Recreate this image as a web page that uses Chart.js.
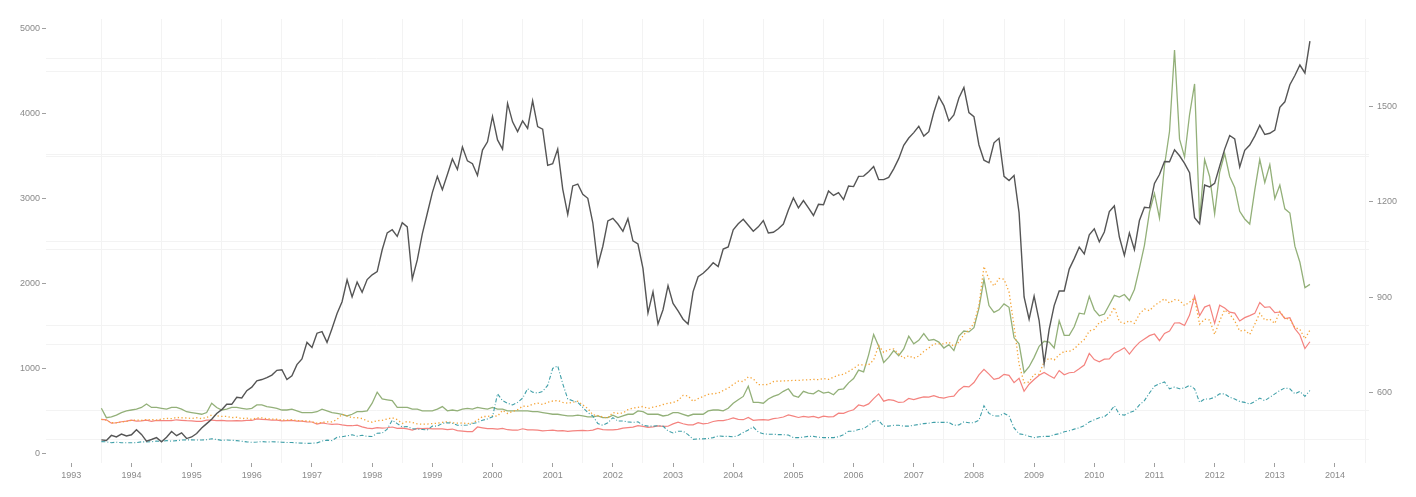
<!DOCTYPE html>
<html>
<head>
<meta charset="utf-8">
<script src="https://cdn.jsdelivr.net/npm/chart.js@4.4.0/dist/chart.umd.min.js"></script>
<style>
  html, body { margin: 0; padding: 0; background: #fff; }
  canvas { display: block; }
</style>
</head>
<body>
<canvas id="chart" width="1416" height="497"></canvas>
<script>
// monthly samples, first point = July 1993, last = August 2013
const firstYear = 1993;
const firstMonth = 7;

// S&P 500 (right axis)
const sp500 = [
  450, 448, 464, 459, 468, 462,
  466, 482, 467, 446, 451, 457, 444, 458, 476, 463, 472, 454,
  459, 470, 487, 501, 515, 533, 545, 562, 562, 584, 582, 605,
  616, 636, 640, 646, 654, 669, 671, 640, 652, 687, 705, 757,
  741, 786, 791, 757, 801, 848, 885, 954, 900, 947, 915, 955,
  970, 980, 1049, 1102, 1112, 1091, 1134, 1121, 957, 1017, 1099, 1164,
  1229, 1280, 1238, 1286, 1335, 1302, 1373, 1329, 1320, 1283, 1363, 1389,
  1469, 1395, 1366, 1510, 1452, 1421, 1455, 1431, 1518, 1437, 1429, 1315,
  1320, 1366, 1240, 1160, 1250, 1256, 1224, 1211, 1134, 1000, 1060, 1140,
  1148, 1130, 1107, 1147, 1077, 1067, 990, 850, 916, 815, 860, 936,
  880, 856, 830, 815, 917, 964, 975, 990, 1008, 996, 1051, 1058,
  1112, 1131, 1145, 1126, 1107, 1121, 1141, 1102, 1104, 1115, 1130, 1174,
  1212, 1181, 1204, 1181, 1157, 1192, 1191, 1234, 1220, 1229, 1207, 1250,
  1248, 1280, 1281, 1295, 1311, 1270, 1270, 1277, 1304, 1336, 1378, 1401,
  1418, 1438, 1407, 1421, 1482, 1531, 1503, 1455, 1474, 1527, 1560, 1481,
  1468, 1379, 1331, 1323, 1386, 1400, 1280, 1267, 1283, 1166, 900, 830,
  903, 826, 690, 798, 873, 919, 919, 988, 1021, 1057, 1036, 1096,
  1115, 1074, 1105, 1169, 1187, 1089, 1031, 1102, 1049, 1141, 1183, 1181,
  1258, 1286, 1327, 1326, 1364, 1345, 1321, 1292, 1150, 1131, 1253, 1247,
  1258, 1312, 1366, 1409, 1398, 1310, 1362, 1379, 1407, 1441, 1412, 1416,
  1426, 1498, 1515, 1569, 1598, 1631, 1606, 1706
];

// silver x 100 (left axis)
const silver = [
  530, 420, 430, 450, 480, 500,
  510, 520, 540, 580, 540, 540, 530, 520, 540, 540, 520, 490,
  480, 470, 460, 480, 590, 540, 510, 520, 540, 540, 530, 520,
  530, 570, 570, 550, 540, 530, 510, 510, 520, 500, 480, 480,
  480, 490, 520, 500, 480, 470, 460, 440, 460, 490, 490, 500,
  590, 720, 640, 630, 620, 540, 540, 540, 520, 520, 500, 500,
  500, 520, 550, 500, 510, 500, 520, 530, 520, 540, 530, 520,
  540, 520, 520, 500, 500, 500, 500, 500, 490, 490, 480, 470,
  460, 460, 450, 440, 440, 450, 440, 430, 430, 440, 420, 420,
  450, 420, 440, 460, 460, 500, 490, 460, 460, 460, 440, 450,
  480, 480, 460, 440, 460, 460, 460, 500, 510, 510, 500, 530,
  590, 630, 670, 790, 600, 600, 590, 640, 670, 690, 730, 760,
  680, 660, 730, 710, 700, 740, 710, 720, 690, 750, 760, 830,
  880, 980, 960, 1160, 1400, 1260, 1070, 1130, 1210, 1150, 1230, 1380,
  1290, 1330, 1410, 1330, 1340, 1310, 1240, 1280, 1210, 1380, 1440, 1430,
  1480, 1710, 2050, 1740, 1660, 1690, 1760, 1720, 1360, 1290, 950, 1020,
  1130, 1260, 1320, 1310, 1240, 1560, 1390, 1390, 1490, 1650, 1640, 1850,
  1690, 1620, 1640, 1750, 1860, 1840, 1870, 1800, 1930, 2180, 2450, 2840,
  3060, 2770, 3390, 3790, 4750, 3700, 3490, 3990, 4350, 2750, 3460, 3260,
  2820, 3310, 3530, 3260, 3130, 2850, 2760, 2700, 3100, 3460, 3190, 3400,
  3000, 3160, 2880, 2830, 2440, 2250, 1950, 1990
];

// gold (left axis)
const gold = [
  400, 395, 355, 360, 372, 380,
  390, 380, 382, 390, 376, 387, 386, 385, 386, 395, 389, 384,
  383, 377, 376, 390, 390, 385, 387, 383, 383, 384, 383, 387,
  387, 405, 400, 396, 392, 390, 382, 385, 387, 379, 379, 371,
  369, 345, 358, 348, 340, 345, 334, 326, 325, 332, 311, 296,
  290, 303, 297, 301, 310, 293, 296, 288, 273, 293, 292, 294,
  288, 287, 287, 280, 286, 268, 262, 255, 255, 310, 300, 291,
  290, 284, 293, 278, 274, 272, 289, 276, 277, 273, 264, 269,
  272, 265, 267, 258, 264, 267, 270, 266, 273, 293, 279, 275,
  277, 282, 297, 302, 308, 326, 318, 305, 312, 323, 317, 319,
  347, 368, 348, 335, 336, 362, 346, 354, 375, 385, 386, 398,
  416, 400, 396, 423, 388, 394, 396, 391, 408, 416, 428, 453,
  438, 422, 435, 427, 435, 417, 437, 429, 433, 473, 470, 495,
  513, 569, 557, 582, 644, 700, 614, 632, 623, 599, 604, 646,
  632, 650, 665, 662, 680, 659, 650, 666, 673, 743, 789, 783,
  834, 923, 990, 933, 871, 886, 930, 918, 833, 884, 730, 814,
  869, 919, 952, 916, 884, 975, 926, 949, 955, 996, 1040, 1176,
  1104, 1078, 1109, 1113, 1180, 1208, 1244, 1169, 1246, 1307, 1346, 1386,
  1405, 1327, 1411, 1439, 1535, 1536, 1505, 1628, 1850, 1620, 1722, 1746,
  1531, 1744, 1711, 1662, 1651, 1558, 1598, 1622, 1648, 1776, 1719, 1726,
  1657, 1664, 1588, 1598, 1469, 1394, 1234, 1314
];

// platinum (left axis)
const platinum = [
  400, 390, 360, 360, 370, 375,
  387, 392, 389, 398, 398, 391, 403, 411, 408, 423, 419, 416,
  411, 419, 409, 421, 451, 442, 434, 436, 420, 425, 409, 414,
  400, 417, 418, 408, 404, 401, 393, 391, 397, 385, 383, 383,
  372, 354, 364, 371, 370, 400, 460, 440, 420, 419, 410, 380,
  366, 385, 388, 404, 420, 396, 352, 375, 364, 347, 343, 345,
  350, 355, 365, 371, 360, 356, 357, 349, 359, 389, 433, 434,
  442, 438, 506, 470, 492, 514, 555, 553, 577, 592, 575, 601,
  616, 622, 600, 590, 603, 613, 570, 527, 454, 445, 427, 418,
  480, 471, 474, 514, 533, 540, 552, 528, 543, 555, 575, 589,
  598, 623, 682, 676, 612, 645, 670, 694, 702, 708, 740, 768,
  811, 850, 845, 900, 878, 809, 809, 811, 845, 851, 852, 855,
  859, 858, 864, 866, 870, 867, 881, 870, 896, 921, 930, 964,
  1000, 1040, 1041, 1043, 1099, 1270, 1188, 1220, 1230, 1170, 1120, 1150,
  1120, 1145, 1200, 1240, 1290, 1290, 1290, 1310, 1260, 1310, 1400, 1450,
  1530, 1740, 2200, 2050, 1970, 2060, 2050, 1900, 1500, 1050, 830, 840,
  930, 930, 1080, 1120, 1100, 1160, 1200, 1200, 1230, 1290, 1340, 1440,
  1460, 1540, 1560, 1610, 1720, 1550, 1530, 1560, 1530, 1640, 1700, 1680,
  1740, 1780, 1820, 1770, 1810, 1800, 1740, 1780, 1830, 1520, 1580, 1570,
  1400, 1560, 1690, 1640, 1560, 1440, 1450, 1400, 1520, 1650, 1570, 1580,
  1530, 1670, 1590, 1580, 1480, 1460, 1350, 1450
];

// palladium (left axis)
const palladium = [
  138, 135, 125, 131, 124, 124,
  124, 126, 135, 134, 136, 144, 142, 149, 143, 150, 156, 159,
  158, 157, 157, 161, 172, 163, 153, 157, 154, 149, 142, 135,
  130, 133, 138, 133, 136, 134, 131, 128, 127, 123, 120, 117,
  119, 123, 145, 155, 150, 190, 196, 206, 218, 201, 213, 200,
  198, 236, 238, 285, 390, 350, 310, 315, 290, 285, 280, 275,
  320, 320, 353, 360, 355, 330, 330, 333, 350, 363, 390, 405,
  430, 700, 620, 590, 570, 600, 650, 760, 720, 710, 730, 800,
  1000, 1030, 820, 640, 620, 600, 540, 480, 440, 350, 330, 360,
  420, 380, 380, 370, 365, 370, 330, 320, 320, 325, 320, 265,
  240, 260, 260, 220, 165, 170, 170, 175, 185, 205, 200, 200,
  195, 210, 245, 275, 310, 250, 230, 225, 225, 220, 220, 215,
  185, 185, 190, 200, 200, 190, 185, 185, 185, 195, 220, 260,
  260, 280, 290, 330, 380, 385, 320, 320, 330, 330, 320, 320,
  330, 340, 350, 355, 365, 365, 365, 365, 330, 335, 370, 360,
  360, 390, 560, 470, 440, 440, 470, 440, 300, 230, 220, 200,
  185, 195, 200, 200, 220, 230, 255, 265, 285, 300, 325, 370,
  395, 420, 430, 480, 560, 460, 450, 480, 500, 570, 620, 710,
  790, 820, 840, 760, 780, 760, 770, 800, 760, 600, 640, 640,
  660, 700, 700, 660, 640, 610, 600, 580, 610, 650, 620, 660,
  700, 740, 770, 760, 700, 730, 670, 740
];

// axis ticks
const yearTicks = [1993, 1994, 1995, 1996, 1997, 1998, 1999, 2000, 2001, 2002, 2003,
  2004, 2005, 2006, 2007, 2008, 2009, 2010, 2011, 2012, 2013, 2014];
const yearMinorTicks = yearTicks.map(y => y + 0.5);
const leftTicks = [0, 1000, 2000, 3000, 4000, 5000];
const leftMinorTicks = [500, 1500, 2500, 3500, 4500];
const rightTicks = [600, 900, 1200, 1500];
const rightMinorTicks = [450, 750, 1050, 1350, 1650];

// decimal year for each sample (start of month)
const months = sp500.map((v, i) => firstYear + (firstMonth - 1 + i) / 12);

function toPoints(values) {
  return values.map((v, i) => ({ x: months[i], y: v }));
}

function setTicks(list) {
  return (axis) => { axis.ticks = list.map(v => ({ value: v })); };
}

const fontFamily = '"Liberation Sans", Arial, Helvetica, sans-serif';
const labelColor = '#8a8a8a';
const tickColor = '#a0a0a0';
const minorGrid = '#f3f3f3';
const xRange = { min: 1992.58, max: 2014.565 };
const leftRange = { min: -114, max: 5115 };
const rightRange = { min: 377, max: 1776 };

const ctx = document.getElementById('chart').getContext('2d');
new Chart(ctx, {
  type: 'line',
  data: {
    datasets: [
      {
        label: 'S&P 500',
        data: toPoints(sp500),
        yAxisID: 'y2',
        borderColor: '#555555',
        borderWidth: 1.4
      },
      {
        label: 'Palladium',
        data: toPoints(palladium),
        yAxisID: 'y',
        borderColor: '#3f9fa8',
        borderWidth: 1.1,
        borderDash: [4, 2, 1, 2]
      },
      {
        label: 'Platinum',
        data: toPoints(platinum),
        yAxisID: 'y',
        borderColor: '#f5a539',
        borderWidth: 1.3,
        borderDash: [1.3, 2.4]
      },
      {
        label: 'Gold',
        data: toPoints(gold),
        yAxisID: 'y',
        borderColor: '#f4837f',
        borderWidth: 1.2
      },
      {
        label: 'Silver x100',
        data: toPoints(silver),
        yAxisID: 'y',
        borderColor: '#93b079',
        borderWidth: 1.3
      }
    ]
  },
  options: {
    responsive: false,
    animation: false,
    elements: {
      point: { radius: 0 },
      line: { tension: 0, fill: false }
    },
    layout: { padding: { top: 19, left: 0, right: 0, bottom: 0 } },
    plugins: {
      legend: { display: false },
      tooltip: { enabled: false }
    },
    scales: {
      x: {
        type: 'linear',
        position: 'bottom',
        min: xRange.min,
        max: xRange.max,
        afterBuildTicks: setTicks(yearTicks),
        afterFit: (s) => { s.height = 34; },
        border: { display: false },
        grid: { drawOnChartArea: false, drawTicks: true, tickLength: 4, tickColor: tickColor },
        ticks: {
          autoSkip: false,
          maxRotation: 0,
          padding: 3,
          color: labelColor,
          font: { family: fontFamily, size: 9 },
          callback: (v) => String(v)
        }
      },
      xMinor: {
        type: 'linear',
        position: 'bottom',
        min: xRange.min,
        max: xRange.max,
        afterBuildTicks: setTicks(yearMinorTicks),
        afterFit: (s) => { s.height = 0; },
        border: { display: false },
        grid: { color: minorGrid, lineWidth: 1, drawTicks: false },
        ticks: { display: false }
      },
      y: {
        type: 'linear',
        position: 'left',
        min: leftRange.min,
        max: leftRange.max,
        afterBuildTicks: setTicks(leftTicks),
        afterFit: (s) => { s.width = 46; },
        border: { display: false },
        grid: { drawOnChartArea: false, drawTicks: true, tickLength: 4, tickColor: tickColor },
        ticks: {
          padding: 2,
          color: labelColor,
          font: { family: fontFamily, size: 9 },
          callback: (v) => String(v)
        }
      },
      yMinorL: {
        type: 'linear',
        position: 'left',
        min: leftRange.min,
        max: leftRange.max,
        afterBuildTicks: setTicks(leftMinorTicks),
        afterFit: (s) => { s.width = 0; },
        border: { display: false },
        grid: { color: minorGrid, lineWidth: 1, drawTicks: false },
        ticks: { display: false }
      },
      y2: {
        type: 'linear',
        position: 'right',
        min: rightRange.min,
        max: rightRange.max,
        afterBuildTicks: setTicks(rightTicks),
        afterFit: (s) => { s.width = 47; },
        border: { display: false },
        grid: { drawOnChartArea: false, drawTicks: true, tickLength: 4, tickColor: tickColor },
        ticks: {
          padding: 4,
          color: labelColor,
          font: { family: fontFamily, size: 9 },
          callback: (v) => String(v)
        }
      },
      yMinorR: {
        type: 'linear',
        position: 'right',
        min: rightRange.min,
        max: rightRange.max,
        afterBuildTicks: setTicks(rightMinorTicks),
        afterFit: (s) => { s.width = 0; },
        border: { display: false },
        grid: { color: minorGrid, lineWidth: 1, drawTicks: false },
        ticks: { display: false }
      }
    }
  }
});
</script>
</body>
</html>
